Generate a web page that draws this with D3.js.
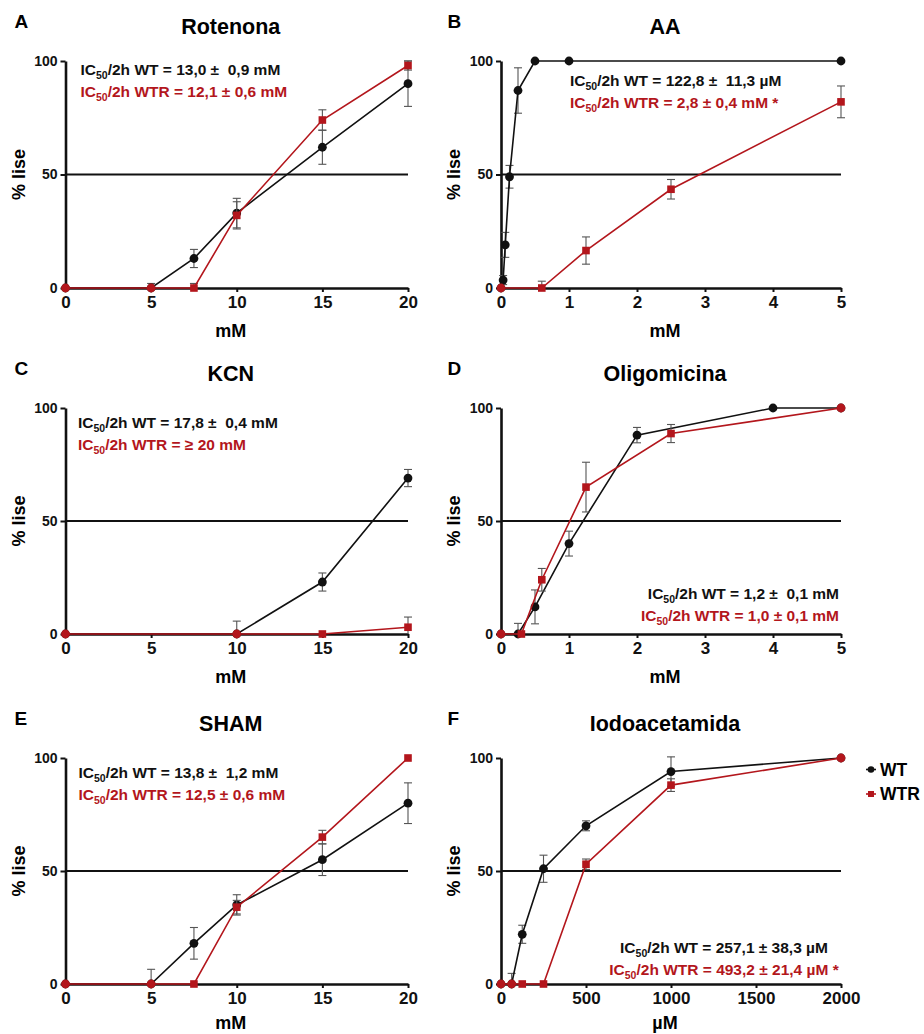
<!DOCTYPE html>
<html><head><meta charset="utf-8">
<script src="https://cdn.jsdelivr.net/npm/d3@7"></script>
<style>
body{margin:0;background:#fff;}
svg text{font-family:"Liberation Sans",Arial,sans-serif;font-weight:bold;}
</style></head><body>
<svg id="chart" width="924" height="1034"></svg>
<script>
// ---- Dose-response data (% lise after 2 h) ----
const yTicks = [0, 50, 100];
const mMTicks20 = [0, 5, 10, 15, 20];
const mMTicks5 = [0, 1, 2, 3, 4, 5];
const uMTicks2000 = [0, 500, 1000, 1500, 2000];

// A - Rotenona
const rotDoseWT = [0, 5, 7.5, 10, 15, 20];
const rotWT = [0, 0, 13, 33, 62, 90];
const rotWTerr = [0, 2, 4, 6.5, 7.5, 10];
const rotDoseWTR = [0, 5, 7.5, 10, 15, 20];
const rotWTR = [0, 0, 0, 32, 74, 98];
const rotWTRerr = [0, 0, 2, 6, 4.5, 2];
const rotIC50 = ["13,0 \u00b1  0,9 mM", "12,1 \u00b1 0,6 mM"];

// B - AA
const aaDoseWT = [0, 0.03125, 0.0625, 0.125, 0.25, 0.5, 1, 5];
const aaWT = [0, 3.5, 19, 49, 87, 100, 100, 100];
const aaWTerr = [0, 2, 5.5, 5, 10, 0, 0, 0];
const aaDoseWTR = [0, 0.6, 1.25, 2.5, 5];
const aaWTR = [0, 0, 16.5, 43.5, 82];
const aaWTRerr = [0, 3, 6, 4.3, 7];
const aaIC50 = ["122,8 \u00b1  11,3 \u00b5M", "2,8 \u00b1 0,4 mM *"];

// C - KCN
const kcnDoseWT = [0, 10, 15, 20];
const kcnWT = [0, 0, 23, 69];
const kcnWTerr = [0, 5.7, 4, 3.8];
const kcnDoseWTR = [0, 10, 15, 20];
const kcnWTR = [0, 0, 0, 3];
const kcnWTRerr = [0, 0, 0, 4.5];
const kcnIC50 = ["17,8 \u00b1  0,4 mM", "\u2265 20 mM"];

// D - Oligomicina
const oliDoseWT = [0, 0.25, 0.5, 1, 2, 4, 5];
const oliWT = [0, 0, 12, 40, 88, 100, 100];
const oliWTerr = [0, 4.7, 7.5, 5.5, 3.4, 0, 0];
const oliDoseWTR = [0, 0.3, 0.6, 1.25, 2.5, 5];
const oliWTR = [0, 0, 24, 65, 88.7, 100];
const oliWTRerr = [0, 0, 5, 11, 4, 0];
const oliIC50 = ["1,2 \u00b1  0,1 mM", "1,0 \u00b1 0,1 mM"];

// E - SHAM
const shamDoseWT = [0, 5, 7.5, 10, 15, 20];
const shamWT = [0, 0, 18, 35, 55, 80];
const shamWTerr = [0, 6.5, 7, 4.5, 7, 9];
const shamDoseWTR = [0, 5, 7.5, 10, 15, 20];
const shamWTR = [0, 0, 0, 34, 65, 100];
const shamWTRerr = [0, 0, 0, 3, 3, 0];
const shamIC50 = ["13,8 \u00b1  1,2 mM", "12,5 \u00b1 0,6 mM"];

// F - Iodoacetamida
const iodDoseWT = [0, 62.5, 125, 250, 500, 1000, 2000];
const iodWT = [0, 0, 22, 51, 70, 94, 100];
const iodWTerr = [0, 4.7, 4, 6, 2.2, 6.5, 0];
const iodDoseWTR = [0, 62.5, 125, 250, 500, 1000, 2000];
const iodWTR = [0, 0, 0, 0, 53, 88, 100];
const iodWTRerr = [0, 0, 0, 0, 2.3, 2.8, 0];
const iodIC50 = ["257,1 \u00b1 38,3 \u00b5M", "493,2 \u00b1 21,4 \u00b5M *"];

const seriesNames = ["WT", "WTR"];
const colors = {WT: "#111111", WTR: "#b3161c"};

// ---- Panel layout ----
const colX = [[65.5, 408], [501, 841]];
const rowY = [[61, 288], [408, 634], [758, 984]];

const panels = [
  {letter: "A", title: "Rotenona", unit: "mM", ticks: mMTicks20, col: 0, row: 0,
   wt: [rotDoseWT, rotWT, rotWTerr], wtr: [rotDoseWTR, rotWTR, rotWTRerr], ic50: rotIC50,
   ann: {anchor: "start", dx: 15, ref: "top", dy: 13.5}},
  {letter: "B", title: "AA", unit: "mM", ticks: mMTicks5, col: 1, row: 0,
   wt: [aaDoseWT, aaWT, aaWTerr], wtr: [aaDoseWTR, aaWTR, aaWTRerr], ic50: aaIC50,
   ann: {anchor: "start", dx: 69, ref: "top", dy: 25}},
  {letter: "C", title: "KCN", unit: "mM", ticks: mMTicks20, col: 0, row: 1,
   wt: [kcnDoseWT, kcnWT, kcnWTerr], wtr: [kcnDoseWTR, kcnWTR, kcnWTRerr], ic50: kcnIC50,
   ann: {anchor: "start", dx: 12.5, ref: "top", dy: 19.5}},
  {letter: "D", title: "Oligomicina", unit: "mM", ticks: mMTicks5, col: 1, row: 1,
   wt: [oliDoseWT, oliWT, oliWTerr], wtr: [oliDoseWTR, oliWTR, oliWTRerr], ic50: oliIC50,
   ann: {anchor: "end", dx: -2, ref: "bottom", dy: -35}},
  {letter: "E", title: "SHAM", unit: "mM", ticks: mMTicks20, col: 0, row: 2,
   wt: [shamDoseWT, shamWT, shamWTerr], wtr: [shamDoseWTR, shamWTR, shamWTRerr], ic50: shamIC50,
   ann: {anchor: "start", dx: 13, ref: "top", dy: 19.5}},
  {letter: "F", title: "Iodoacetamida", unit: "\u00b5M", ticks: uMTicks2000, col: 1, row: 2,
   wt: [iodDoseWT, iodWT, iodWTerr], wtr: [iodDoseWTR, iodWTR, iodWTRerr], ic50: iodIC50,
   ann: {anchor: "middle", dx: 0, ref: "bottom", dy: -31}, legend: true}
];

const svg = d3.select("#chart");

function rowsOf(s) {
  return s[0].map((d, i) => ({x: d, y: s[1][i], e: s[2][i]}));
}

panels.forEach(p => {
  const [x0, x1] = colX[p.col];
  const [yTop, yBot] = rowY[p.row];
  const xs = d3.scaleLinear().domain(d3.extent(p.ticks)).range([x0, x1]);
  const ys = d3.scaleLinear().domain([0, 100]).range([yBot, yTop]);
  const g = svg.append("g");

  // panel letter and title
  g.append("text").attr("x", x0 - 51 + (p.col ? -2.5 : 0)).attr("y", yTop - 33)
    .attr("font-size", 19).text(p.letter);
  g.append("text").attr("x", (x0 + x1) / 2 - 6).attr("y", yTop - 27)
    .attr("text-anchor", "middle").attr("font-size", 21.5).text(p.title);

  // axes
  const yAxis = d3.axisLeft(ys).tickValues(yTicks).tickSize(5).tickSizeOuter(0).tickPadding(3)
    .tickFormat(d => String(d));
  const xAxis = d3.axisBottom(xs).tickValues(p.ticks).tickSize(4).tickSizeOuter(0).tickPadding(4)
    .tickFormat(d => String(d));
  const ya = g.append("g").attr("transform", `translate(${x0},0)`).call(yAxis);
  const xa = g.append("g").attr("transform", `translate(0,${yBot})`).call(xAxis);
  [ya, xa].forEach(a => {
    a.select(".domain").attr("stroke", "#111").attr("stroke-width", 2.6);
    a.selectAll(".tick line").attr("stroke", "#111").attr("stroke-width", 2);
    a.selectAll(".tick text").attr("fill", "#111")
      .style("font-family", '"Liberation Sans",Arial,sans-serif').style("font-weight", "bold");
  });
  ya.selectAll(".tick text").attr("font-size", 14);
  xa.selectAll(".tick text").attr("font-size", 17);

  // 50 % reference line
  g.append("line").attr("x1", x0).attr("x2", x1).attr("y1", ys(50)).attr("y2", ys(50))
    .attr("stroke", "#111").attr("stroke-width", 2.2);

  // axis titles
  g.append("text").attr("transform", `translate(${x0 - 41},${(yTop + yBot) / 2}) rotate(-90)`)
    .attr("text-anchor", "middle").attr("font-size", 18).text("% lise");
  g.append("text").attr("x", (x0 + x1) / 2 - 6).attr("y", yBot + (p.row === 2 ? 45 : 49))
    .attr("text-anchor", "middle").attr("font-size", 18).text(p.unit);

  const wtRows = rowsOf(p.wt);
  const wtrRows = rowsOf(p.wtr);
  const line = d3.line().x(d => xs(d.x)).y(d => ys(d.y));

  function errorBars(rows) {
    const eb = g.append("g").attr("stroke", "#555").attr("stroke-width", 1.1);
    rows.filter(d => d.e > 0).forEach(d => {
      const cx = xs(d.x), hi = ys(d.y + d.e), lo = ys(Math.max(0, d.y - d.e));
      eb.append("line").attr("x1", cx).attr("x2", cx).attr("y1", hi).attr("y2", lo);
      eb.append("line").attr("x1", cx - 4).attr("x2", cx + 4).attr("y1", hi).attr("y2", hi);
      if (d.y - d.e > 0)
        eb.append("line").attr("x1", cx - 4).attr("x2", cx + 4).attr("y1", lo).attr("y2", lo);
    });
  }

  // WT series
  errorBars(wtRows);
  g.append("path").datum(wtRows).attr("d", line).attr("fill", "none")
    .attr("stroke", colors.WT).attr("stroke-width", 1.6);
  g.selectAll(null).data(wtRows).join("circle")
    .attr("cx", d => xs(d.x)).attr("cy", d => ys(d.y)).attr("r", 4.4).attr("fill", colors.WT);

  // WTR series
  errorBars(wtrRows);
  g.append("path").datum(wtrRows).attr("d", line).attr("fill", "none")
    .attr("stroke", colors.WTR).attr("stroke-width", 1.6);
  const sharesWT = d => wtRows.some(w => w.x === d.x && w.y === d.y);
  g.selectAll(null).data(wtrRows.filter(sharesWT)).join("circle")
    .attr("cx", d => xs(d.x)).attr("cy", d => ys(d.y)).attr("r", 4.4).attr("fill", colors.WTR);
  g.selectAll(null).data(wtrRows.filter(d => !sharesWT(d))).join("rect")
    .attr("x", d => xs(d.x) - 3.8).attr("y", d => ys(d.y) - 3.8)
    .attr("width", 7.6).attr("height", 7.6).attr("fill", colors.WTR);

  // IC50 annotation
  const a = p.ann;
  const ax = a.anchor === "start" ? x0 + a.dx : a.anchor === "end" ? x1 + a.dx : (x0 + x1) / 2 + 53;
  const ay = a.ref === "top" ? yTop + a.dy : yBot + a.dy;
  seriesNames.forEach((name, i) => {
    const t = g.append("text").attr("x", ax).attr("y", ay + i * 22)
      .attr("text-anchor", a.anchor).attr("font-size", 15.5).attr("fill", colors[name])
      .style("white-space", "pre");
    t.append("tspan").text("IC");
    t.append("tspan").attr("font-size", 10.5).attr("dy", 4).text("50");
    t.append("tspan").attr("dy", -4).text(`/2h ${name} = ${p.ic50[i]}`);
  });

  // legend
  if (p.legend) {
    seriesNames.forEach((name, i) => {
      const ly = 769.5 + i * 24.5;
      const lg = svg.append("g");
      lg.append("line").attr("x1", 866).attr("x2", 876).attr("y1", ly).attr("y2", ly)
        .attr("stroke", colors[name]).attr("stroke-width", 1.6);
      if (name === "WT") lg.append("circle").attr("cx", 871).attr("cy", ly).attr("r", 3.3).attr("fill", colors[name]);
      else lg.append("rect").attr("x", 868).attr("y", ly - 3).attr("width", 6).attr("height", 6).attr("fill", colors[name]);
      lg.append("text").attr("x", 880).attr("y", ly + 6.3).attr("font-size", 17.5).text(name);
    });
  }
});
</script>
</body></html>
